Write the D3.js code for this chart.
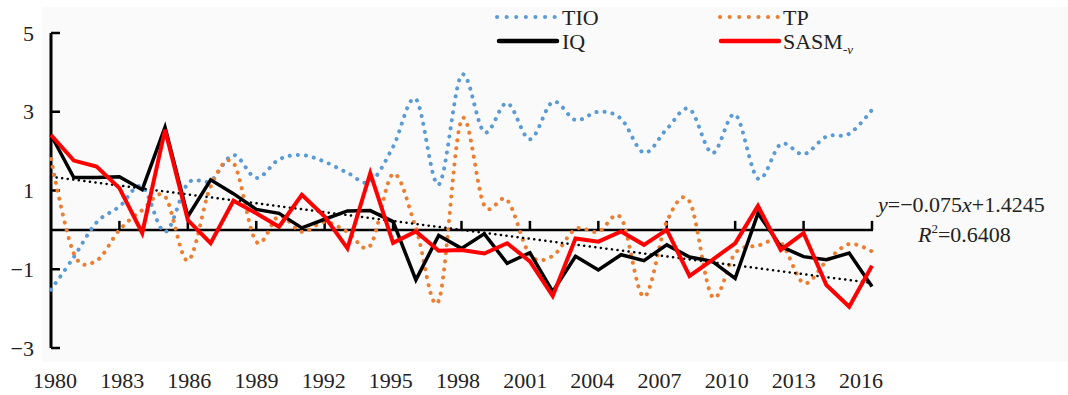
<!DOCTYPE html>
<html>
<head>
<meta charset="utf-8">
<script src="https://cdn.jsdelivr.net/npm/d3@7"></script>
<style>
  body { margin: 0; background: #fff; }
  svg text { font-family: "Liberation Serif", "Times New Roman", serif; fill: #222; }
</style>
</head>
<body>
<svg id="chart" width="1068" height="395"></svg>
<script>
// Séries (1980–2016)
const years = d3.range(1980, 2017);

const tio = [-1.52, -0.69, 0.19, 0.59, 1.1, -0.05, 1.18, 1.25, 1.9, 1.32,
  1.79, 1.9, 1.73, 1.45, 1.22, 2.11, 3.32, 1.15, 3.93, 2.48,
  3.22, 2.3, 3.25, 2.79, 3.0, 2.82, 1.96, 2.56, 3.07, 1.95,
  2.93, 1.3, 2.18, 1.92, 2.37, 2.44, 3.05];

const tp = [1.8, -0.6, -0.78, 0.0, 0.5, 0.85, -0.78, 1.1, 1.7, -0.3,
  0.35, -0.05, 0.2, -0.05, -0.4, 1.42, 0.05, -1.8, 2.8, 0.62,
  0.76, -0.63, -0.66, 0.02, -0.05, 0.3, -1.7, 0.21, 0.72, -1.7,
  -0.59, -0.4, -0.32, -1.35, -0.8, -0.36, -0.55];

const iq = [2.41, 1.33, 1.33, 1.35, 1.02, 2.61, 0.34, 1.27, 0.92, 0.52,
  0.42, 0.05, 0.27, 0.48, 0.49, 0.21, -1.27, -0.14, -0.47, -0.1,
  -0.85, -0.58, -1.57, -0.67, -1.02, -0.63, -0.78, -0.38, -0.69, -0.8,
  -1.23, 0.42, -0.42, -0.68, -0.76, -0.59, -1.44];

const sasm = [2.41, 1.76, 1.61, 1.06, -0.08, 2.54, 0.25, -0.34, 0.74, 0.42,
  0.08, 0.89, 0.34, -0.47, 1.44, -0.33, -0.04, -0.53, -0.51, -0.6,
  -0.34, -0.8, -1.68, -0.22, -0.3, -0.04, -0.38, 0.0, -1.17, -0.76,
  -0.34, 0.61, -0.51, -0.08, -1.4, -1.95, -0.91];

// Tendance linéaire de IQ (équation affichée, x = 1..37)
const trendSlope = -0.075;
const trendIntercept = 1.4245;
const trendR2 = "0.6408";

const yTicks = [5, 3, 1, -1, -3];
const xTickYears = d3.range(1980, 2017, 3);

const BLUE = "#5B9BD5", ORANGE = "#ED7D31", RED = "#FF0000";

const svg = d3.select("#chart");

// fond légèrement grisé de la zone graphique
svg.append("rect")
  .attr("x", 42).attr("y", 7)
  .attr("width", 1026).attr("height", 355)
  .attr("fill", "#fafafa");

const x = d3.scaleLinear().domain([1980, 2016]).range([51, 872]);
const xLabel = d3.scaleLinear().domain([1980, 2016]).range([55, 861]);
const y = d3.scaleLinear().domain([-3, 5]).range([348, 33]);

// Axe Y
svg.append("line")
  .attr("x1", x(1980)).attr("x2", x(1980))
  .attr("y1", y(5)).attr("y2", y(-3))
  .attr("stroke", "#000").attr("stroke-width", 3);

yTicks.forEach(v => {
  svg.append("line")
    .attr("x1", x(1980)).attr("x2", x(1980) + 9)
    .attr("y1", y(v)).attr("y2", y(v))
    .attr("stroke", "#000").attr("stroke-width", 2.5);
  svg.append("text")
    .attr("x", 34).attr("y", y(v))
    .attr("dy", "0.35em")
    .attr("text-anchor", "end")
    .style("font-size", "22px")
    .text(v < 0 ? "\u2212" + Math.abs(v) : v);
});

// Axe X (sur la ligne zéro)
svg.append("line")
  .attr("x1", x(1980)).attr("x2", x(2016) + 1)
  .attr("y1", y(0)).attr("y2", y(0))
  .attr("stroke", "#000").attr("stroke-width", 2.5);

xTickYears.forEach(yr => {
  if (yr > 1980) {
    svg.append("line")
      .attr("x1", x(yr)).attr("x2", x(yr))
      .attr("y1", y(0)).attr("y2", y(0) - 9)
      .attr("stroke", "#000").attr("stroke-width", 2.5);
  }
  svg.append("text")
    .attr("x", xLabel(yr)).attr("y", 388)
    .attr("text-anchor", "middle")
    .style("font-size", "22px")
    .text(yr);
});

// Séries
const smooth = d3.line()
  .x((d, i) => x(years[i]))
  .y(d => y(d))
  .curve(d3.curveCardinal.tension(0));

const straight = d3.line()
  .x((d, i) => x(years[i]))
  .y(d => y(d));

svg.append("path")
  .attr("d", smooth(tio))
  .attr("fill", "none")
  .attr("stroke", BLUE)
  .attr("stroke-width", 4)
  .attr("stroke-linecap", "round")
  .attr("stroke-dasharray", "0.1 8");

svg.append("path")
  .attr("d", smooth(tp))
  .attr("fill", "none")
  .attr("stroke", ORANGE)
  .attr("stroke-width", 4)
  .attr("stroke-linecap", "round")
  .attr("stroke-dasharray", "0.1 8");

// droite de tendance
const tStart = trendSlope * 1 + trendIntercept;
const tEnd = trendSlope * years.length + trendIntercept;
svg.append("line")
  .attr("x1", x(1980)).attr("y1", y(tStart))
  .attr("x2", x(2016)).attr("y2", y(tEnd))
  .attr("stroke", "#000")
  .attr("stroke-width", 2.5)
  .attr("stroke-linecap", "round")
  .attr("stroke-dasharray", "0.1 5.5");

svg.append("path")
  .attr("d", straight(iq))
  .attr("fill", "none")
  .attr("stroke", "#000")
  .attr("stroke-width", 3.5);

svg.append("path")
  .attr("d", straight(sasm))
  .attr("fill", "none")
  .attr("stroke", RED)
  .attr("stroke-width", 4);

// Légende
const legend = [
  { label: "TIO", color: BLUE, dotted: true, x1: 497, x2: 557, tx: 562, y: 17 },
  { label: "TP", color: ORANGE, dotted: true, x1: 720, x2: 779, tx: 783, y: 17 },
  { label: "IQ", color: "#000", dotted: false, x1: 499, x2: 557, tx: 562, y: 41 },
  { label: "SASM", sub: "-v", color: RED, dotted: false, x1: 721, x2: 779, tx: 783, y: 41 }
];

legend.forEach(d => {
  const ln = svg.append("line")
    .attr("x1", d.x1).attr("x2", d.x2)
    .attr("y1", d.y).attr("y2", d.y)
    .attr("stroke", d.color)
    .attr("stroke-linecap", "round");
  if (d.dotted) {
    ln.attr("stroke-width", 4).attr("stroke-dasharray", "0.1 9.5");
  } else {
    ln.attr("stroke-width", 4.5);
  }
  const t = svg.append("text")
    .attr("x", d.tx)
    .attr("y", d.y + 8)
    .style("font-size", "22px")
    .text(d.label);
  if (d.sub) {
    t.append("tspan")
      .attr("dy", 5)
      .style("font-size", "13px")
      .style("font-style", "italic")
      .text(d.sub);
  }
});

// Équation de la tendance
const eq = svg.append("text").attr("x", 878).attr("y", 212).style("font-size", "22px");
eq.append("tspan").style("font-style", "italic").text("y");
eq.append("tspan").text("=\u2212" + Math.abs(trendSlope));
eq.append("tspan").style("font-style", "italic").text("x");
eq.append("tspan").text("+" + trendIntercept);

const r2 = svg.append("text").attr("x", 918).attr("y", 242).style("font-size", "22px");
r2.append("tspan").style("font-style", "italic").text("R");
r2.append("tspan").attr("dy", -9).style("font-size", "13px").text("2");
r2.append("tspan").attr("dy", 9).text("=" + trendR2);
</script>
</body>
</html>
